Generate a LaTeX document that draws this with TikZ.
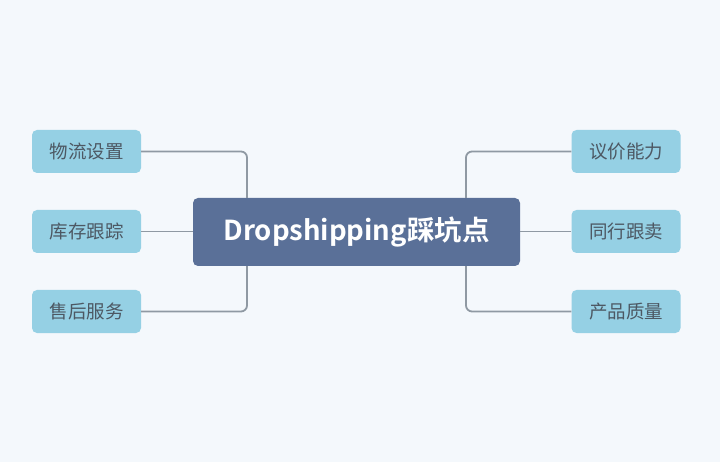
\documentclass[tikz,border=0pt]{standalone}
\usepackage{fontspec}
\setmainfont{Noto Sans CJK SC}
\newfontfamily\cjkb{Noto Sans CJK SC Bold}
\usetikzlibrary{calc}
\definecolor{bgc}{HTML}{F4F8FC}
\definecolor{leafc}{HTML}{95D0E4}
\definecolor{rootc}{HTML}{5A7098}
\definecolor{linec}{HTML}{8F99A3}
\definecolor{txtc}{HTML}{4D5863}
\tikzset{
  leaf/.style={fill=leafc, rounded corners=5pt, minimum width=109pt, minimum height=43pt, inner sep=0pt, text=txtc, font=\fontsize{18.5}{20}\selectfont},
  root/.style={fill=rootc, rounded corners=5pt, minimum width=327pt, minimum height=68pt, inner sep=0pt, text=white, font=\cjkb\fontsize{27.5}{30}\selectfont},
  conn/.style={draw=linec, line width=1.8pt, rounded corners=6pt}
}
\begin{document}
\begin{tikzpicture}[x=1pt,y=-1pt]
\fill[bgc] (0,0) rectangle (720,462);
\useasboundingbox (0,0) rectangle (720,462);
\coordinate (lx) at (247,0);
\coordinate (rx) at (466,0);
\node[root] (c) at (356.5,232) {Dropshipping踩坑点};
\node[leaf] (l1) at (86.5,151.5) {物流设置};
\node[leaf] (l2) at (86.5,231.5) {库存跟踪};
\node[leaf] (l3) at (86.5,311.5) {售后服务};
\node[leaf] (r1) at (626,151.5) {议价能力};
\node[leaf] (r2) at (626,231.5) {同行跟卖};
\node[leaf] (r3) at (626,311.5) {产品质量};
\begin{scope}[on background layer/.try]
\end{scope}
\draw[conn] (l1.east) -| (c.north -| lx);
\draw[conn] (l2.east) -- (c.west |- l2.east);
\draw[conn] (l3.east) -| (c.south -| lx);
\draw[conn] (r1.west) -| (c.north -| rx);
\draw[conn] (r2.west) -- (c.east |- r2.west);
\draw[conn] (r3.west) -| (c.south -| rx);
\end{tikzpicture}
\end{document}
